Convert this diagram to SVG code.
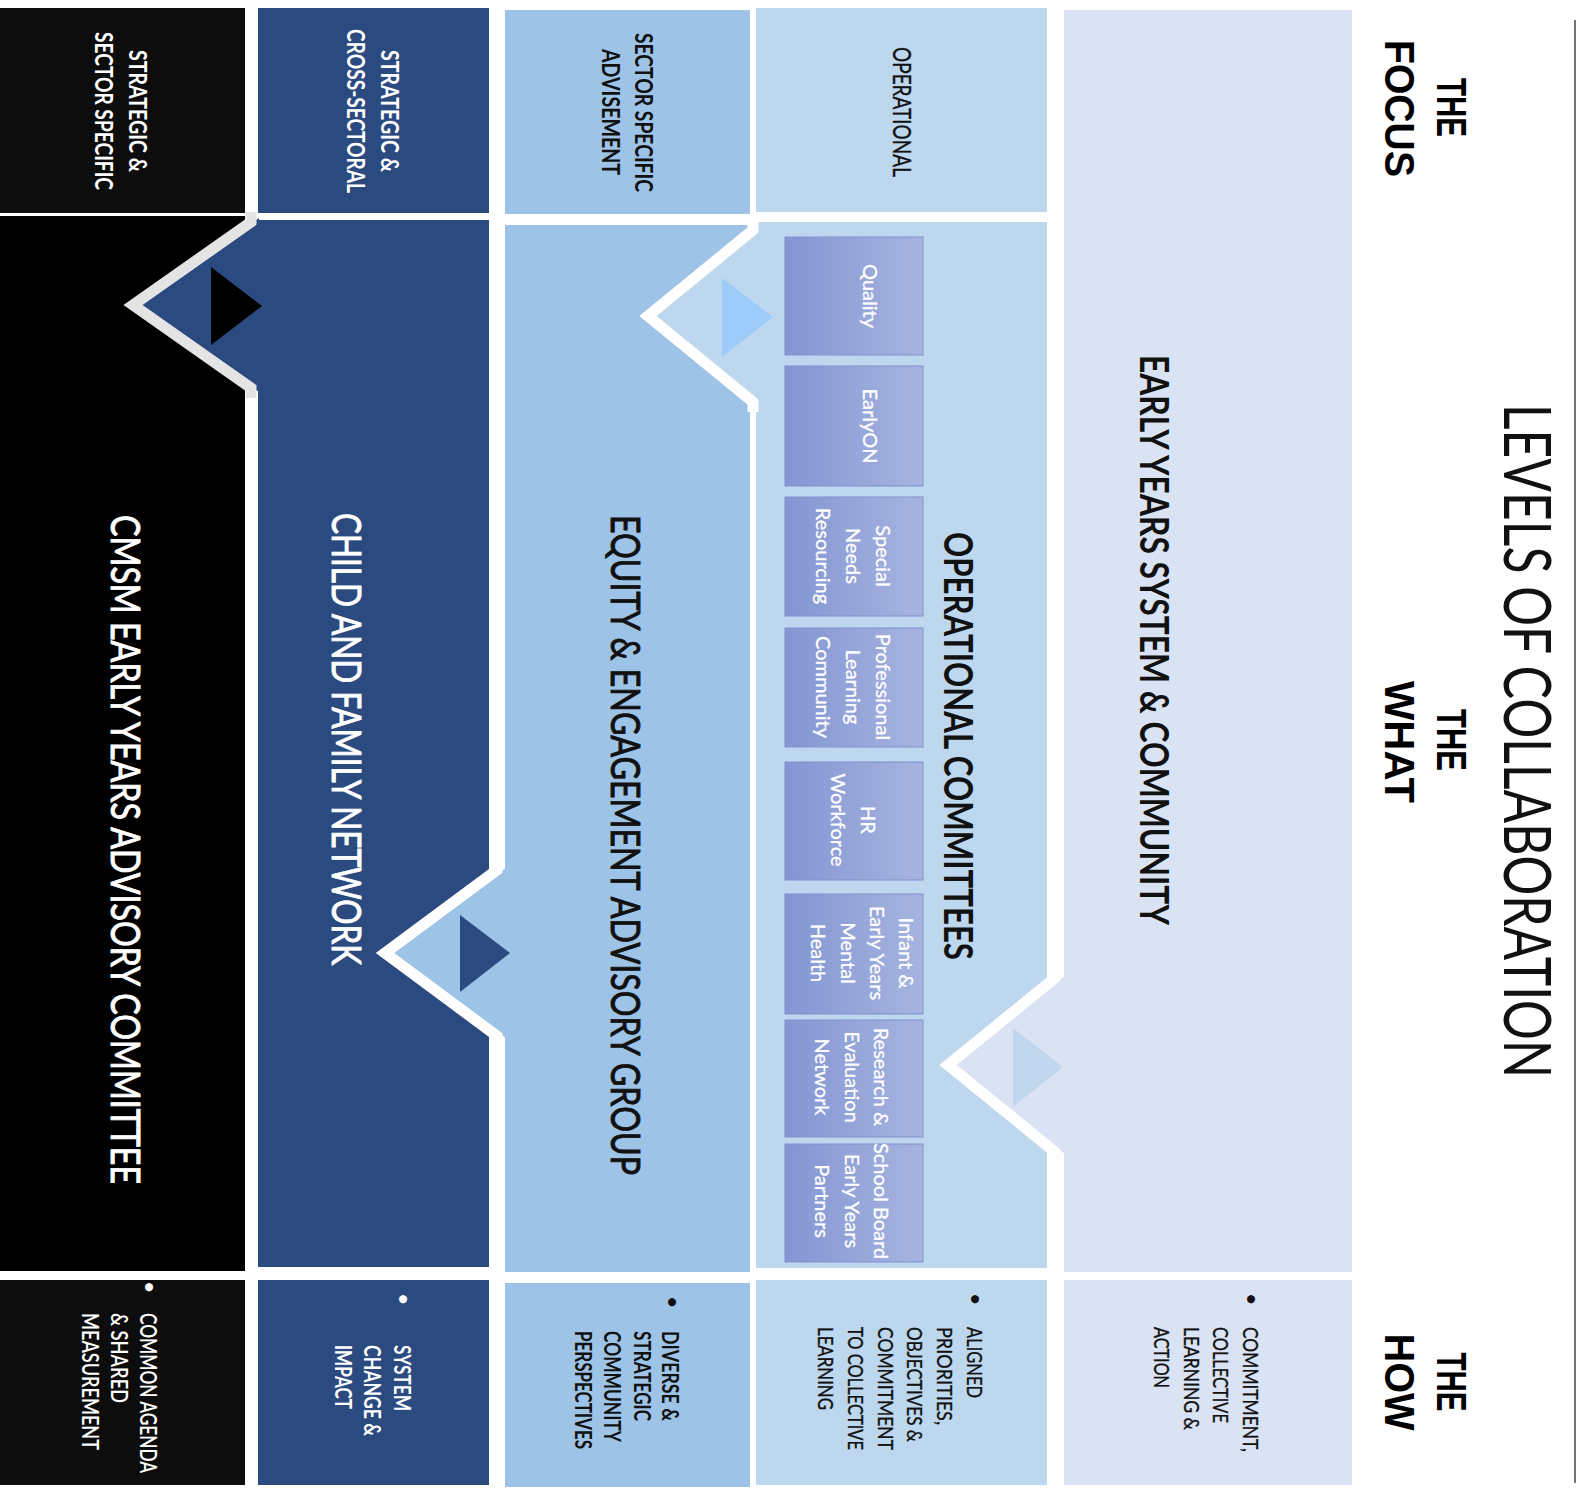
<svg xmlns="http://www.w3.org/2000/svg" width="1583" height="1496" viewBox="0 0 1583 1496">
<defs>
<linearGradient id="boxg" x1="0" y1="0" x2="1" y2="0">
<stop offset="0" stop-color="#8396d3"/>
<stop offset="1" stop-color="#a7b4df"/>
</linearGradient>
<style>
.t{font-family:Lato,"Open Sans","Liberation Sans",sans-serif}
.h{font-family:"Liberation Sans",Arial,sans-serif;font-weight:900;font-size:43px;fill:#000}
.blk{fill:#0d0d0d}.k{fill:#000}.b{fill:#2b4a80}.c3{fill:#9dc3e6}.c4{fill:#bdd7ee}.c5{fill:#dae3f3}
.w{fill:#fff}.d{fill:#111}
.hd{font-size:25px;font-weight:700}
.mid{font-size:40px;font-weight:400;stroke-width:0.9}
.mid.w{stroke:#fff}.mid.d{stroke:#111}
.box{fill:url(#boxg);stroke:#8092cf;stroke-width:1}
.bt{font-size:20px;fill:#fff;stroke:#fff;stroke-width:0.3}
.li{font-size:22px}
.rg{stroke:#111;stroke-width:0.35}
.chev{fill:none;stroke:#fff;stroke-width:11;stroke-linejoin:miter;stroke-miterlimit:10}
</style>
</defs>
<rect width="1583" height="1496" fill="#fff"/>

<g id="title">
<text class="t d" transform="translate(1504,741) rotate(90)" text-anchor="middle" font-size="66" textLength="674" lengthAdjust="spacingAndGlyphs">LEVELS OF COLLABORATION</text>
<line x1="1575" y1="20" x2="1575" y2="1483" stroke="#444" stroke-width="1.5"/>
</g>
<g id="focus-label">
<text class="h" transform="translate(1437,107.5) rotate(90)" text-anchor="middle" textLength="59" lengthAdjust="spacingAndGlyphs">THE</text>
<text class="h" transform="translate(1385,108.5) rotate(90)" text-anchor="middle" textLength="137" lengthAdjust="spacingAndGlyphs">FOCUS</text>
</g>
<g id="what-label">
<text class="h" transform="translate(1437,740) rotate(90)" text-anchor="middle" textLength="62" lengthAdjust="spacingAndGlyphs">THE</text>
<text class="h" transform="translate(1385,742) rotate(90)" text-anchor="middle" textLength="122" lengthAdjust="spacingAndGlyphs">WHAT</text>
</g>
<g id="how-label">
<text class="h" transform="translate(1437,1382) rotate(90)" text-anchor="middle" textLength="59" lengthAdjust="spacingAndGlyphs">THE</text>
<text class="h" transform="translate(1385,1382) rotate(90)" text-anchor="middle" textLength="97" lengthAdjust="spacingAndGlyphs">HOW</text>
</g>

<g id="cmsm-col">
<rect class="blk" x="0" y="8" width="245" height="205"/>
<rect class="k" x="0" y="216" width="245" height="1055"/>
<rect class="blk" x="0" y="1280" width="245" height="205"/>
</g>
<g id="cfn-col">
<rect class="b" x="258" y="8" width="231" height="205"/>
<rect class="b" x="258" y="220" width="231" height="1047"/>
<rect class="b" x="258" y="1280" width="231" height="205"/>
</g>
<g id="equity-col">
<rect class="c3" x="505" y="10" width="245" height="204"/>
<rect class="c3" x="505" y="225" width="245" height="1047"/>
<rect class="c3" x="505" y="1283" width="245" height="204"/>
</g>
<g id="ops-col">
<rect class="c4" x="756" y="8" width="291" height="204"/>
<rect class="c4" x="756" y="222" width="291" height="1046"/>
<rect class="c4" x="756" y="1280" width="291" height="205"/>
</g>
<g id="eys-col">
<rect class="c5" x="1064" y="10" width="288" height="1262"/>
<rect class="c5" x="1064" y="1280" width="288" height="205"/>
</g>

<g id="connectors">
<polygon class="b" points="259,218 133,305 259,392"/>
<polyline class="chev" style="stroke:#e4e4e4" points="251,212 251,222 133,305 251,388 251,398"/>
<polygon class="k" points="211,267 211,345 262,306"/>

<polygon class="c4" points="757,228 648,316 757,404"/>
<polyline class="chev" points="753,220 753,230 648,316 753,402 753,412"/>
<polygon fill="#9dcbfa" points="722,278 722,357 773,317"/>

<polygon class="c3" points="506,868 385,953 506,1038"/>
<polyline class="chev" points="497,860 497,870 385,953 497,1036 497,1046"/>
<polygon class="b" points="460,915 460,992 510,953"/>

<polygon class="c5" points="1065,976 948,1065 1065,1154"/>
<polyline class="chev" points="1055,968 1055,978 948,1065 1055,1152 1055,1162"/>
<polygon fill="#c0d7ee" points="1013,1028 1013,1107 1063,1067"/>
</g>

<g id="cmsm-focus">
<text class="t hd w" transform="translate(129,111) rotate(90)" text-anchor="middle" textLength="122" lengthAdjust="spacingAndGlyphs">STRATEGIC &amp;</text>
<text class="t hd w" transform="translate(95,111) rotate(90)" text-anchor="middle" textLength="158" lengthAdjust="spacingAndGlyphs">SECTOR SPECIFIC</text>
</g>
<g id="cfn-focus">
<text class="t hd w" transform="translate(381,111) rotate(90)" text-anchor="middle" textLength="122" lengthAdjust="spacingAndGlyphs">STRATEGIC &amp;</text>
<text class="t hd w" transform="translate(347,111) rotate(90)" text-anchor="middle" textLength="164" lengthAdjust="spacingAndGlyphs">CROSS-SECTORAL</text>
</g>
<g id="equity-focus">
<text class="t hd d" transform="translate(635,112.5) rotate(90)" text-anchor="middle" textLength="159" lengthAdjust="spacingAndGlyphs">SECTOR SPECIFIC</text>
<text class="t hd d" transform="translate(602,112) rotate(90)" text-anchor="middle" textLength="126" lengthAdjust="spacingAndGlyphs">ADVISEMENT</text>
</g>
<g id="ops-focus">
<text class="t d rg" font-size="25" transform="translate(893,112) rotate(90)" text-anchor="middle" textLength="130" lengthAdjust="spacingAndGlyphs">OPERATIONAL</text>
</g>

<g id="cmsm">
<text class="t mid w" transform="translate(111,849.5) rotate(90)" text-anchor="middle" textLength="669" lengthAdjust="spacingAndGlyphs">CMSM EARLY YEARS ADVISORY COMMITTEE</text>
</g>
<g id="cfn">
<text class="t mid w" transform="translate(332,739) rotate(90)" text-anchor="middle" textLength="452" lengthAdjust="spacingAndGlyphs">CHILD AND FAMILY NETWORK</text>
</g>
<g id="equity">
<text class="t mid d" transform="translate(611,845) rotate(90)" text-anchor="middle" textLength="660" lengthAdjust="spacingAndGlyphs">EQUITY &amp; ENGAGEMENT ADVISORY GROUP</text>
</g>
<g id="ops">
<text class="t mid d" style="font-weight:700;stroke-width:0" transform="translate(944,746) rotate(90)" text-anchor="middle" textLength="428" lengthAdjust="spacingAndGlyphs">OPERATIONAL COMMITTEES</text>
</g>
<g id="eys">
<text class="t mid d" style="font-weight:700;stroke-width:0" transform="translate(1140,640) rotate(90)" text-anchor="middle" textLength="570" lengthAdjust="spacingAndGlyphs">EARLY YEARS SYSTEM &amp; COMMUNITY</text>
</g>

<g id="c-quality">
<rect class="box" x="785" y="237" width="138" height="118"/>
<text class="t bt" transform="translate(863,296) rotate(90)" text-anchor="middle">Quality</text>
</g>
<g id="c-earlyon">
<rect class="box" x="785" y="366" width="138" height="120"/>
<text class="t bt" transform="translate(863,426) rotate(90)" text-anchor="middle">EarlyON</text>
</g>
<g id="c-special">
<rect class="box" x="785" y="497" width="138" height="119"/>
<text class="t bt" transform="translate(876,556) rotate(90)" text-anchor="middle">Special</text>
<text class="t bt" transform="translate(846,556) rotate(90)" text-anchor="middle">Needs</text>
<text class="t bt" transform="translate(816,556) rotate(90)" text-anchor="middle">Resourcing</text>
</g>
<g id="c-plc">
<rect class="box" x="785" y="628" width="138" height="119"/>
<text class="t bt" transform="translate(876,687) rotate(90)" text-anchor="middle">Professional</text>
<text class="t bt" transform="translate(846,687) rotate(90)" text-anchor="middle">Learning</text>
<text class="t bt" transform="translate(816,687) rotate(90)" text-anchor="middle">Community</text>
</g>
<g id="c-hr">
<rect class="box" x="785" y="762" width="138" height="118"/>
<text class="t bt" transform="translate(861,820) rotate(90)" text-anchor="middle">HR</text>
<text class="t bt" transform="translate(831,820) rotate(90)" text-anchor="middle">Workforce</text>
</g>
<g id="c-iemh">
<rect class="box" x="785" y="894" width="138" height="120"/>
<text class="t bt" transform="translate(899,953) rotate(90)" text-anchor="middle">Infant &amp;</text>
<text class="t bt" transform="translate(870,953) rotate(90)" text-anchor="middle">Early Years</text>
<text class="t bt" transform="translate(841,953) rotate(90)" text-anchor="middle">Mental</text>
<text class="t bt" transform="translate(811,953) rotate(90)" text-anchor="middle">Health</text>
</g>
<g id="c-research">
<rect class="box" x="785" y="1020" width="138" height="117"/>
<text class="t bt" transform="translate(874,1077) rotate(90)" text-anchor="middle">Research &amp;</text>
<text class="t bt" transform="translate(845,1077) rotate(90)" text-anchor="middle">Evaluation</text>
<text class="t bt" transform="translate(815,1077) rotate(90)" text-anchor="middle">Network</text>
</g>
<g id="c-school">
<rect class="box" x="785" y="1144" width="138" height="118"/>
<text class="t bt" transform="translate(874,1201) rotate(90)" text-anchor="middle">School Board</text>
<text class="t bt" transform="translate(845,1201) rotate(90)" text-anchor="middle">Early Years</text>
<text class="t bt" transform="translate(815,1201) rotate(90)" text-anchor="middle">Partners</text>
</g>

<g id="cmsm-how">
<text class="t li w" transform="translate(142,1287) rotate(90)" text-anchor="middle">•</text>
<text class="t li w" style="font-weight:600" transform="translate(140,1313) rotate(90) scale(0.8,1)" textLength="200" lengthAdjust="spacingAndGlyphs">COMMON AGENDA</text>
<text class="t li w" style="font-weight:600" transform="translate(111,1313) rotate(90)" textLength="90" lengthAdjust="spacingAndGlyphs">&amp; SHARED</text>
<text class="t li w" style="font-weight:600" transform="translate(82,1313) rotate(90)" textLength="137" lengthAdjust="spacingAndGlyphs">MEASUREMENT</text>
</g>
<g id="cfn-how">
<text class="t li w" transform="translate(396,1299) rotate(90)" text-anchor="middle">•</text>
<text class="t li w" style="font-weight:700" transform="translate(394,1345) rotate(90)" textLength="66" lengthAdjust="spacingAndGlyphs">SYSTEM</text>
<text class="t li w" style="font-weight:700" transform="translate(364,1345) rotate(90)" textLength="91" lengthAdjust="spacingAndGlyphs">CHANGE &amp;</text>
<text class="t li w" style="font-weight:700" transform="translate(335,1345) rotate(90)" textLength="64" lengthAdjust="spacingAndGlyphs">IMPACT</text>
</g>
<g id="equity-how">
<text class="t li d" transform="translate(665,1302) rotate(90)" text-anchor="middle">•</text>
<text class="t li d" style="font-weight:700" transform="translate(662,1331) rotate(90)" textLength="90" lengthAdjust="spacingAndGlyphs">DIVERSE &amp;</text>
<text class="t li d" style="font-weight:700" transform="translate(634,1331) rotate(90)" textLength="90" lengthAdjust="spacingAndGlyphs">STRATEGIC</text>
<text class="t li d" style="font-weight:700" transform="translate(604,1331) rotate(90)" textLength="111" lengthAdjust="spacingAndGlyphs">COMMUNITY</text>
<text class="t li d" style="font-weight:700" transform="translate(575,1331) rotate(90)" textLength="118" lengthAdjust="spacingAndGlyphs">PERSPECTIVES</text>
</g>
<g id="ops-how">
<text class="t li d" transform="translate(968,1299) rotate(90)" text-anchor="middle">•</text>
<text class="t li d rg" transform="translate(967,1327) rotate(90)" textLength="71" lengthAdjust="spacingAndGlyphs">ALIGNED</text>
<text class="t li d rg" transform="translate(937,1327) rotate(90)" textLength="98" lengthAdjust="spacingAndGlyphs">PRIORITIES,</text>
<text class="t li d rg" transform="translate(907,1327) rotate(90)" textLength="115" lengthAdjust="spacingAndGlyphs">OBJECTIVES &amp;</text>
<text class="t li d rg" transform="translate(878,1327) rotate(90)" textLength="123" lengthAdjust="spacingAndGlyphs">COMMITMENT</text>
<text class="t li d rg" transform="translate(848,1327) rotate(90)" textLength="123" lengthAdjust="spacingAndGlyphs">TO COLLECTIVE</text>
<text class="t li d rg" transform="translate(818,1327) rotate(90)" textLength="83" lengthAdjust="spacingAndGlyphs">LEARNING</text>
</g>
<g id="eys-how">
<text class="t li d" transform="translate(1244,1299) rotate(90)" text-anchor="middle">•</text>
<text class="t li d rg" transform="translate(1243,1327) rotate(90)" textLength="125" lengthAdjust="spacingAndGlyphs">COMMITMENT,</text>
<text class="t li d rg" transform="translate(1213,1327) rotate(90)" textLength="96" lengthAdjust="spacingAndGlyphs">COLLECTIVE</text>
<text class="t li d rg" transform="translate(1184,1327) rotate(90)" textLength="103" lengthAdjust="spacingAndGlyphs">LEARNING &amp;</text>
<text class="t li d rg" transform="translate(1154,1327) rotate(90)" textLength="61" lengthAdjust="spacingAndGlyphs">ACTION</text>
</g>
</svg>
